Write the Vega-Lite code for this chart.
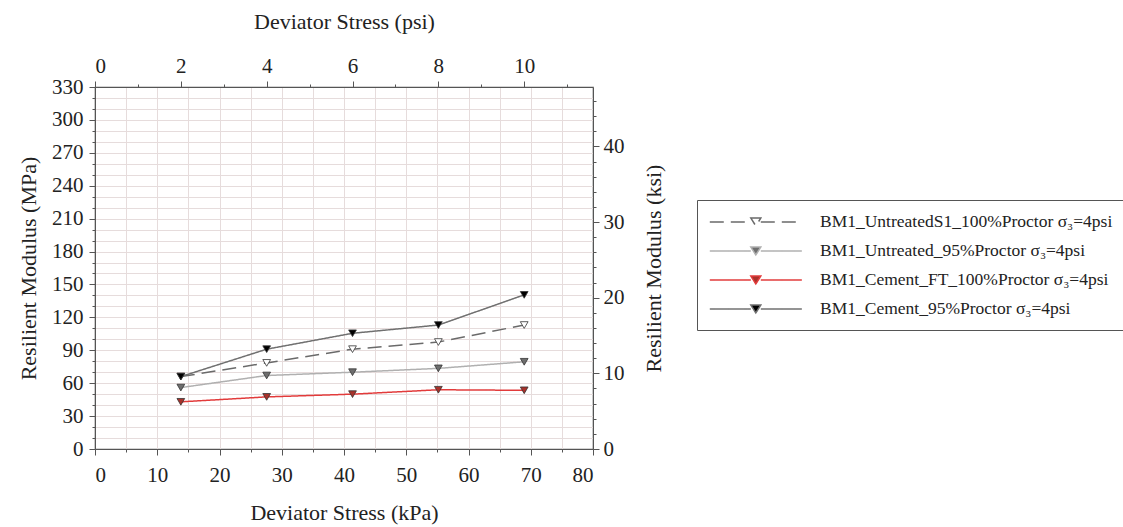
{
  "$schema": "https://vega.github.io/schema/vega-lite/v6.json",
  "width": 498,
  "height": 362,
  "autosize": {"type": "none"},
  "padding": {"left": 95, "top": 87, "right": 530, "bottom": 78},
  "background": "white",
  "config": {
    "font": "Liberation Serif",
    "view": {"stroke": "#555555", "strokeWidth": 1.2},
    "axis": {
      "labelFont": "Liberation Serif",
      "labelFontSize": 21,
      "labelColor": "#222222",
      "labelOverlap": false,
      "titleFont": "Liberation Serif",
      "titleFontSize": 22,
      "titleFontWeight": "normal",
      "titleColor": "#222222",
      "domainColor": "#555555",
      "tickColor": "#555555",
      "gridColor": "#e6dcdc",
      "gridWidth": 1
    },
    "legend": {
      "orient": "none",
      "legendX": 602,
      "legendY": 113,
      "strokeColor": "#555555",
      "fillColor": "white",
      "padding": 12,
      "labelFont": "Liberation Serif",
      "labelFontSize": 17.5,
      "labelColor": "#222222",
      "labelLimit": 0,
      "labelOffset": 91,
      "symbolSize": 339,
      "symbolStrokeWidth": 1.5,
      "rowPadding": 10
    }
  },
  "datasets": {
    "series": [
      {"series": "BM1_UntreatedS1_100%Proctor σ₃=4psi", "kPa": 13.79, "MPa": 66},
      {"series": "BM1_UntreatedS1_100%Proctor σ₃=4psi", "kPa": 27.58, "MPa": 78.5},
      {"series": "BM1_UntreatedS1_100%Proctor σ₃=4psi", "kPa": 41.37, "MPa": 91},
      {"series": "BM1_UntreatedS1_100%Proctor σ₃=4psi", "kPa": 55.16, "MPa": 97.5},
      {"series": "BM1_UntreatedS1_100%Proctor σ₃=4psi", "kPa": 68.95, "MPa": 113},
      {"series": "BM1_Untreated_95%Proctor σ₃=4psi", "kPa": 13.79, "MPa": 56},
      {"series": "BM1_Untreated_95%Proctor σ₃=4psi", "kPa": 27.58, "MPa": 67},
      {"series": "BM1_Untreated_95%Proctor σ₃=4psi", "kPa": 41.37, "MPa": 70},
      {"series": "BM1_Untreated_95%Proctor σ₃=4psi", "kPa": 55.16, "MPa": 73.5},
      {"series": "BM1_Untreated_95%Proctor σ₃=4psi", "kPa": 68.95, "MPa": 79.5},
      {"series": "BM1_Cement_FT_100%Proctor σ₃=4psi", "kPa": 13.79, "MPa": 43},
      {"series": "BM1_Cement_FT_100%Proctor σ₃=4psi", "kPa": 27.58, "MPa": 47.5},
      {"series": "BM1_Cement_FT_100%Proctor σ₃=4psi", "kPa": 41.37, "MPa": 50},
      {"series": "BM1_Cement_FT_100%Proctor σ₃=4psi", "kPa": 55.16, "MPa": 54},
      {"series": "BM1_Cement_FT_100%Proctor σ₃=4psi", "kPa": 68.95, "MPa": 53.5},
      {"series": "BM1_Cement_95%Proctor σ₃=4psi", "kPa": 13.79, "MPa": 66},
      {"series": "BM1_Cement_95%Proctor σ₃=4psi", "kPa": 27.58, "MPa": 91},
      {"series": "BM1_Cement_95%Proctor σ₃=4psi", "kPa": 41.37, "MPa": 105.5},
      {"series": "BM1_Cement_95%Proctor σ₃=4psi", "kPa": 55.16, "MPa": 113},
      {"series": "BM1_Cement_95%Proctor σ₃=4psi", "kPa": 68.95, "MPa": 140.5}
    ],
    "secondary": [
      {"psi": 0, "ksi": 0},
      {"psi": 11.603, "ksi": 47.863}
    ]
  },
  "layer": [
    {
      "data": {"name": "series"},
      "encoding": {
        "x": {
          "field": "kPa",
          "type": "quantitative",
          "scale": {"domain": [0, 80], "nice": false},
          "axis": {
            "orient": "bottom",
            "title": "Deviator Stress (kPa)",
            "values": [0, 5, 10, 15, 20, 25, 30, 35, 40, 45, 50, 55, 60, 65, 70, 75, 80],
            "labelExpr": "datum.value % 10 === 0 ? datum.label : ''",
            "tickSize": {"condition": {"test": "datum.value % 10 === 0", "value": 6}, "value": 3},
            "labelPadding": 9,
            "titlePadding": 17,
            "grid": true
          }
        },
        "y": {
          "field": "MPa",
          "type": "quantitative",
          "scale": {"domain": [0, 330], "nice": false},
          "axis": {
            "orient": "left",
            "title": "Resilient Modulus (MPa)",
            "values": [0, 10, 20, 30, 40, 50, 60, 70, 80, 90, 100, 110, 120, 130, 140, 150, 160, 170, 180, 190, 200, 210, 220, 230, 240, 250, 260, 270, 280, 290, 300, 310, 320, 330],
            "labelExpr": "datum.value % 30 === 0 ? datum.label : ''",
            "tickSize": {"condition": {"test": "datum.value % 30 === 0", "value": 6}, "value": 3},
            "labelPadding": 6,
            "titlePadding": 11,
            "grid": true
          }
        }
      },
      "layer": [
        {
          "mark": {"type": "line", "strokeWidth": 1.5},
          "encoding": {
            "stroke": {
              "field": "series",
              "type": "nominal",
              "scale": {
                "domain": ["BM1_UntreatedS1_100%Proctor σ₃=4psi", "BM1_Untreated_95%Proctor σ₃=4psi", "BM1_Cement_FT_100%Proctor σ₃=4psi", "BM1_Cement_95%Proctor σ₃=4psi"],
                "range": ["#6a6a6a", "#b0b0b0", "#e23b3b", "#707070"]
              },
              "legend": {
                "title": null,
                "encode": {
                  "symbols": {
                    "update": {
                      "shape": {"value": "M-1,0H3.46M4.54,0H9M3.46,-0.43H4.54L4,0.43Z"},
                      "fill": {"scale": "fill", "field": "value"},
                      "strokeDash": {"scale": "strokeDash", "field": "value"}
                    }
                  }
                }
              }
            },
            "strokeDash": {
              "field": "series",
              "type": "nominal",
              "scale": {
                "domain": ["BM1_UntreatedS1_100%Proctor σ₃=4psi", "BM1_Untreated_95%Proctor σ₃=4psi", "BM1_Cement_FT_100%Proctor σ₃=4psi", "BM1_Cement_95%Proctor σ₃=4psi"],
                "range": [[14, 7], [1, 0], [1, 0], [1, 0]]
              },
              "legend": null
            }
          }
        },
        {
          "mark": {"type": "point", "shape": "triangle-down", "filled": true, "size": 60, "stroke": "#333333", "strokeWidth": 0.8, "opacity": 1},
          "encoding": {
            "fill": {
              "field": "series",
              "type": "nominal",
              "scale": {
                "domain": ["BM1_UntreatedS1_100%Proctor σ₃=4psi", "BM1_Untreated_95%Proctor σ₃=4psi", "BM1_Cement_FT_100%Proctor σ₃=4psi", "BM1_Cement_95%Proctor σ₃=4psi"],
                "range": ["#ffffff", "#6e6e6e", "#a8322b", "#000000"]
              },
              "legend": null
            }
          }
        }
      ]
    },
    {
      "data": {"name": "secondary"},
      "mark": {"type": "point", "opacity": 0},
      "encoding": {
        "x": {
          "field": "psi",
          "type": "quantitative",
          "scale": {"domain": [0, 11.603], "nice": false},
          "axis": {
            "orient": "top",
            "title": "Deviator Stress (psi)",
            "values": [0, 1, 2, 3, 4, 5, 6, 7, 8, 9, 10, 11],
            "labelExpr": "datum.value % 2 === 0 ? datum.label : ''",
            "tickSize": {"condition": {"test": "datum.value % 2 === 0", "value": 6}, "value": 3},
            "labelPadding": 5,
            "titlePadding": 22,
            "grid": false
          }
        },
        "y": {
          "field": "ksi",
          "type": "quantitative",
          "scale": {"domain": [0, 47.863], "nice": false},
          "axis": {
            "orient": "right",
            "title": "Resilient Modulus (ksi)",
            "titleAngle": 270,
            "titleBaseline": "top",
            "values": [0, 2, 4, 6, 8, 10, 12, 14, 16, 18, 20, 22, 24, 26, 28, 30, 32, 34, 36, 38, 40, 42, 44, 46],
            "labelExpr": "datum.value % 10 === 0 ? datum.label : ''",
            "tickSize": {"condition": {"test": "datum.value % 10 === 0", "value": 6}, "value": 3},
            "labelPadding": 4,
            "titlePadding": 19,
            "grid": false
          }
        }
      }
    }
  ],
  "resolve": {"scale": {"x": "independent", "y": "independent"}}
}
